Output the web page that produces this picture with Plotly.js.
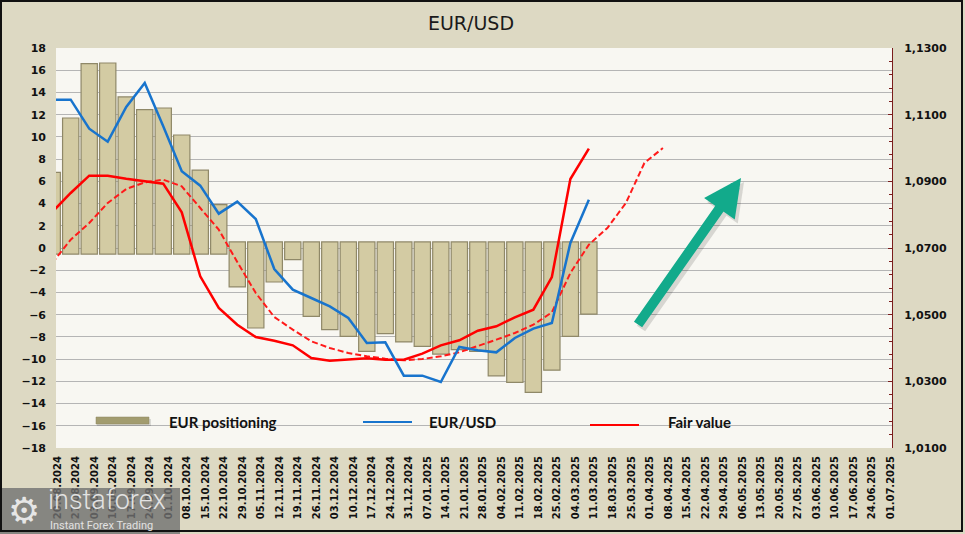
<!DOCTYPE html>
<html>
<head>
<meta charset="utf-8">
<script src="https://cdn.plot.ly/plotly-3.0.1.min.js"></script>
<style>
  html, body { margin: 0; padding: 0; background: #ddd9c3; }
  #chart { width: 965px; height: 534px; }
</style>
</head>
<body>
<div id="chart"></div>
<script>
// ---- data ----
const dates = ['20.08.2024','27.08.2024','03.09.2024','10.09.2024','17.09.2024','24.09.2024','01.10.2024','08.10.2024','15.10.2024','22.10.2024','29.10.2024','05.11.2024','12.11.2024','19.11.2024','26.11.2024','03.12.2024','10.12.2024','17.12.2024','24.12.2024','31.12.2024','07.01.2025','14.01.2025','21.01.2025','28.01.2025','04.02.2025','11.02.2025','18.02.2025','25.02.2025','04.03.2025','11.03.2025','18.03.2025','25.03.2025','01.04.2025','08.04.2025','15.04.2025','22.04.2025','29.04.2025','06.05.2025','13.05.2025','20.05.2025','27.05.2025','03.06.2025','10.06.2025','17.06.2025','24.06.2025','01.07.2025'];

const positioning = [6.8, 11.7, 16.6, 16.65, 13.6, 12.45, 12.6, 10.17, 7.0, 3.9, -3.5, -7.2, -3.06, -1.05, -6.15, -7.35, -7.95, -9.3, -7.7, -8.45, -8.85, -9.55, -9.15, -9.3, -11.5, -12.1, -13.0, -11.0, -7.95, -5.95];

const eurusd = [1.1145, 1.1145, 1.1058, 1.1019, 1.1123, 1.1195, 1.1065, 1.0930, 1.0887, 1.0803, 1.0839, 1.0787, 1.0637, 1.0575, 1.0550, 1.0525, 1.0490, 1.0415, 1.0417, 1.0317, 1.0317, 1.0298, 1.0403, 1.0393, 1.0387, 1.0430, 1.0458, 1.0475, 1.0715, 1.0845];

const fairValue = [1.0808, 1.0865, 1.0917, 1.0917, 1.0908, 1.0900, 1.0893, 1.0807, 1.0615, 1.0520, 1.0470, 1.0433, 1.0422, 1.0408, 1.0370, 1.0362, 1.0365, 1.0369, 1.0365, 1.0365, 1.0383, 1.0408, 1.0423, 1.0452, 1.0465, 1.0492, 1.0515, 1.0613, 1.0907, 1.0998];

const fairValueTrend = [1.0655, 1.0725, 1.0775, 1.0835, 1.0877, 1.0897, 1.0905, 1.0885, 1.0820, 1.0755, 1.0658, 1.0565, 1.0493, 1.0455, 1.0420, 1.0400, 1.0385, 1.0375, 1.0368, 1.0363, 1.0367, 1.0375, 1.0387, 1.0405, 1.0425, 1.0445, 1.0470, 1.0507, 1.0625, 1.0710, 1.0760, 1.0835, 1.0955, 1.1000];

const seriesNames = ['EUR positioning', 'EUR/USD', 'Fair value'];
const leftTicks = [-18,-16,-14,-12,-10,-8,-6,-4,-2,0,2,4,6,8,10,12,14,16,18];

// ---- helpers (layout only) ----
const L = 56, R = 73, T = 48, B = 86, W = 965, H = 534;
const PW = W - L - R, PH = H - T - B;
const px = x => (x - L) / PW;
const py = y => (H - B - y) / PH;

const idx = a => a.map((_, i) => i);
const bevel = 0.55;
const barBase = positioning.map(v => v >= 0 ? -bevel : bevel);
const barLen = positioning.map((v, i) => v - barBase[i]);

const traces = [
  {
    type: 'bar', name: seriesNames[0], x: idx(positioning), y: barLen, base: barBase,
    width: 0.88, yaxis: 'y', xaxis: 'x',
    marker: { color: '#d3cba3', line: { color: '#8f8868', width: 1.2 } },
    hoverinfo: 'skip', showlegend: false
  },
  {
    type: 'scatter', mode: 'lines', name: seriesNames[2] + ' trend', x: idx(fairValueTrend), y: fairValueTrend,
    yaxis: 'y2', line: { color: '#ff1a1a', width: 2, dash: '6px,3px' }, showlegend: false
  },
  {
    type: 'scatter', mode: 'lines', name: seriesNames[2], x: idx(fairValue), y: fairValue,
    yaxis: 'y2', line: { color: '#ff0000', width: 2.5 }, showlegend: false
  },
  {
    type: 'scatter', mode: 'lines', name: seriesNames[1], x: idx(eurusd), y: eurusd,
    yaxis: 'y2', line: { color: '#1874cd', width: 2.5 }, showlegend: false
  }
];

const tickFont = { family: 'DejaVu Sans', size: 11, color: '#111111', weight: 'bold' };
const legendFont = { family: 'Lato', size: 15, color: '#111111', weight: 'bold' };

const layout = {
  width: W, height: H,
  margin: { l: L, r: R, t: T, b: B, pad: 0 },
  paper_bgcolor: '#ddd9c3',
  plot_bgcolor: '#f8f7f2',
  separators: ',.',
  showlegend: false,
  title: {
    text: 'EUR/USD', xref: 'paper', x: px(471), xanchor: 'center',
    yref: 'container', y: 1 - 23 / H, yanchor: 'middle',
    font: { family: 'DejaVu Sans', size: 19, color: '#1a1a1a' }
  },
  xaxis: {
    type: 'linear', range: [0.205, 45.38],
    tickmode: 'array', tickvals: dates.map((_, i) => i + 0.29), ticktext: dates,
    tickangle: -90, tickfont: { family: 'DejaVu Sans', size: 10, color: '#111111', weight: 'bold' },
    showgrid: false, zeroline: false, showline: false, ticks: '', ticklabelstandoff: 5
  },
  yaxis: {
    range: [-18, 18], tickmode: 'array', tickvals: leftTicks,
    showgrid: true, gridcolor: '#b5b5b5', gridwidth: 1, zeroline: false,
    showline: false, ticks: '', tickfont: tickFont, ticklabelstandoff: 9
  },
  yaxis2: {
    overlaying: 'y', side: 'right', range: [1.01, 1.13], dtick: 0.02, tick0: 1.01,
    tickformat: '.4f', showgrid: false, zeroline: false,
    showline: true, linecolor: '#7a1c1c', linewidth: 1,
    ticks: 'inside', ticklen: 4, tickcolor: '#7a1c1c', tickwidth: 1,
    minor: { tick0: 1.01, dtick: 0.004, ticks: 'inside', ticklen: 3, tickcolor: '#7a1c1c', showgrid: false },
    tickfont: tickFont, ticklabelstandoff: 9
  },
  shapes: [
    // legend swatches
    { type: 'rect', xref: 'paper', yref: 'paper', x0: px(97), x1: px(151), y0: py(426), y1: py(419),
      fillcolor: 'rgba(0,0,0,0.12)', line: { width: 0 } },
    { type: 'rect', xref: 'paper', yref: 'paper', x0: px(96), x1: px(149), y0: py(424), y1: py(417),
      fillcolor: '#a29c6f', line: { color: '#8c8660', width: 0.5 } },
    { type: 'line', xref: 'paper', yref: 'paper', x0: px(363), x1: px(412), y0: py(422), y1: py(422),
      line: { color: '#1874cd', width: 2 } },
    { type: 'line', xref: 'paper', yref: 'paper', x0: px(590), x1: px(639), y0: py(425), y1: py(425),
      line: { color: '#ff0000', width: 2 } },
    // watermark box
    { type: 'rect', xref: 'paper', yref: 'paper', layer: 'above', x0: px(0), x1: px(180), y0: py(534), y1: py(488),
      fillcolor: 'rgba(112,112,112,0.8)', line: { width: 0 } },
    // outer frame
    { type: 'rect', xref: 'paper', yref: 'paper', layer: 'above', x0: px(1), x1: px(962), y0: py(531), y1: py(1),
      fillcolor: 'rgba(0,0,0,0)', line: { color: '#111111', width: 2 } }
  ],
  annotations: [
    { xref: 'paper', yref: 'paper', x: px(167), y: py(422), xanchor: 'left', yanchor: 'middle',
      text: seriesNames[0], showarrow: false, font: legendFont },
    { xref: 'paper', yref: 'paper', x: px(427), y: py(422), xanchor: 'left', yanchor: 'middle',
      text: seriesNames[1], showarrow: false, font: legendFont },
    { xref: 'paper', yref: 'paper', x: px(666), y: py(422), xanchor: 'left', yanchor: 'middle',
      text: seriesNames[2], showarrow: false, font: legendFont },
    // arrow shadow
    { xref: 'paper', yref: 'paper', x: px(744), y: py(182), ax: -104, ay: 148, text: '',
      showarrow: true, arrowhead: 2, arrowsize: 0.75, arrowwidth: 10, arrowcolor: 'rgba(0,0,0,0.13)' },
    // arrow
    { xref: 'paper', yref: 'paper', x: px(741), y: py(178), ax: -104, ay: 148, text: '',
      showarrow: true, arrowhead: 2, arrowsize: 0.75, arrowwidth: 10, arrowcolor: '#12aa8b' },
    // watermark
    { xref: 'paper', yref: 'paper', x: px(24), y: py(510), xanchor: 'center', yanchor: 'middle',
      text: '⚙', showarrow: false, font: { family: 'DejaVu Sans', size: 36, color: '#e6e6e6' } },
    { xref: 'paper', yref: 'paper', x: px(46), y: py(500), xanchor: 'left', yanchor: 'middle',
      text: 'instaforex', showarrow: false, font: { family: 'Roboto', size: 27, weight: 300, color: '#e2e2e2' } },
    { xref: 'paper', yref: 'paper', x: px(48), y: py(525.5), xanchor: 'left', yanchor: 'middle',
      text: 'Instant Forex Trading', showarrow: false, font: { family: 'Roboto', size: 11, color: '#e2e2e2' } }
  ]
};

Plotly.newPlot('chart', traces, layout, { staticPlot: true, displayModeBar: false });
</script>
</body>
</html>
